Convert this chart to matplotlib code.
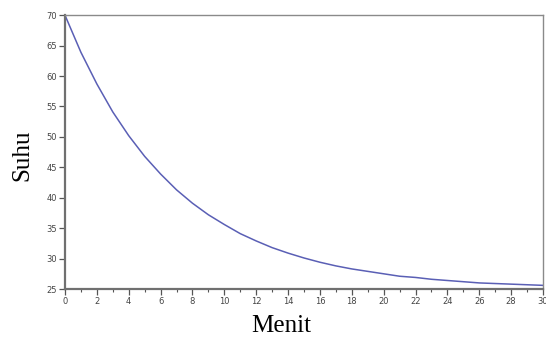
import matplotlib
matplotlib.use("Agg")
import matplotlib.pyplot as plt
from matplotlib.ticker import MultipleLocator

# temperature, one value per minute
menit = list(range(0, 31))
suhu = [70.0, 63.9, 58.7, 54.1, 50.2, 46.8, 43.9, 41.3, 39.1, 37.2,
        35.6, 34.1, 32.9, 31.8, 30.9, 30.1, 29.4, 28.8, 28.3, 27.9,
        27.5, 27.1, 26.9, 26.6, 26.4, 26.2, 26.0, 25.9, 25.8, 25.7,
        25.6]

x_ticks = list(range(0, 31, 2))
y_ticks = list(range(25, 71, 5))


def main():
    fig = plt.figure(figsize=(5.46, 3.37), dpi=100)
    ax = fig.add_axes([0.119, 0.1424, 0.8755, 0.8126])

    ax.plot(menit, suhu, color="#5a5fb5", linewidth=1.1)

    ax.set_xlim(0, 30)
    ax.set_ylim(25, 70)
    ax.set_xticks(x_ticks)
    ax.set_yticks(y_ticks)
    ax.xaxis.set_minor_locator(MultipleLocator(1))

    for side in ["left", "bottom"]:
        ax.spines[side].set_color("#707070")
        ax.spines[side].set_linewidth(1.6)
    for side in ["top", "right"]:
        ax.spines[side].set_color("#8a8a8a")
        ax.spines[side].set_linewidth(1.0)

    ax.tick_params(axis="both", which="major", direction="out", length=4,
                   width=0.9, color="#555555", labelsize=6,
                   labelcolor="#444444", pad=2)
    ax.tick_params(axis="x", which="minor", direction="out", length=2,
                   width=0.8, color="#555555")

    fig.text(281 / 546, 1 - 326 / 337, "Menit", family="Liberation Serif",
             fontsize=18, ha="center", va="center")
    fig.text(22 / 546, 1 - 155 / 337, "Suhu", family="Liberation Serif",
             fontsize=18, ha="center", va="center", rotation=90)

    fig.savefig("out.png", dpi=100)
    plt.close(fig)


if __name__ == "__main__":
    main()
